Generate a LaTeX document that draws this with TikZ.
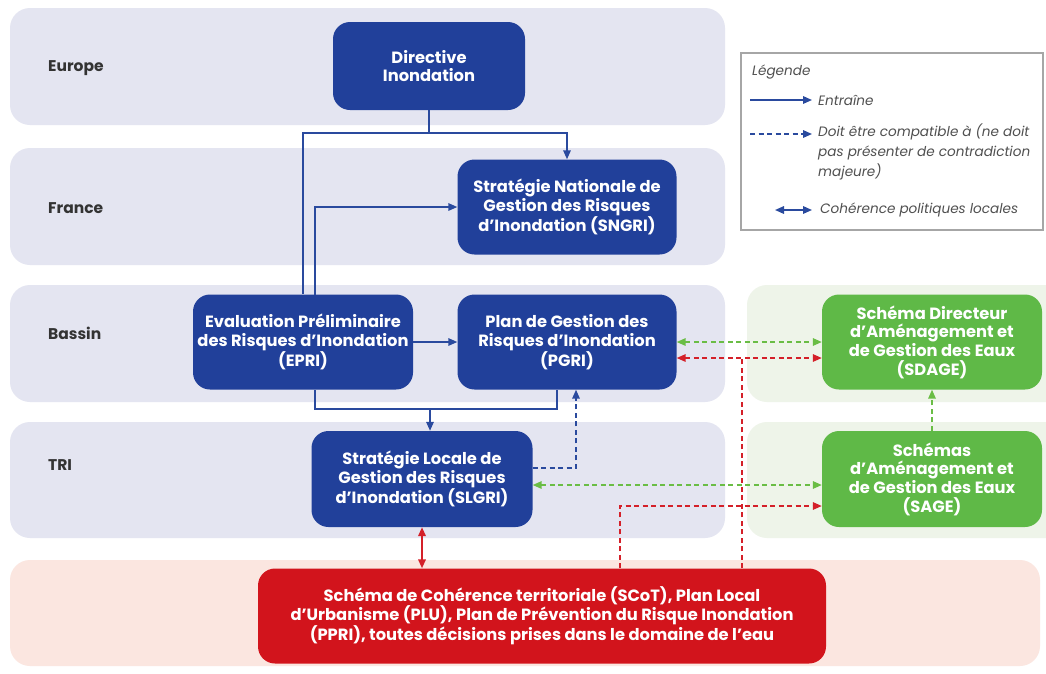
\documentclass[tikz,border=0pt]{standalone}
\usepackage{fontspec}
\setmainfont{Poppins}
\usetikzlibrary{arrows.meta,calc}
\definecolor{bandblue}{HTML}{E4E5F1}
\definecolor{bandgreen}{HTML}{EEF4E9}
\definecolor{bandred}{HTML}{FBE6E0}
\definecolor{boxblue}{HTML}{21409A}
\definecolor{boxgreen}{HTML}{5FB947}
\definecolor{boxred}{HTML}{D2141C}
\definecolor{lineblue}{HTML}{2A4A9E}
\definecolor{linegreen}{HTML}{6ABD45}
\definecolor{linered}{HTML}{D42029}
\definecolor{labelgray}{HTML}{333333}
\definecolor{legendgray}{HTML}{505050}
\begin{document}
\begin{tikzpicture}[x=1pt,y=-1pt,
  box/.style={fill=#1, rounded corners=17pt, text=white, align=center, inner sep=0pt,
    font=\fontsize{16.3}{18.6}\selectfont\bfseries},
  lab/.style={anchor=west, text=labelgray, font=\fontsize{15.5}{17}\selectfont\bfseries, inner sep=0pt},
  leg/.style={anchor=west, text=legendgray, align=left, inner sep=0pt,
    font=\fontsize{13.6}{20}\selectfont\itshape},
  tip/.style={-{Triangle[length=9pt,width=7.5pt]}},
  flow/.style={draw=lineblue, line width=1.6pt, tip},
  plain/.style={draw=lineblue, line width=1.6pt},
  compat/.style={draw=lineblue, line width=1.6pt, dash pattern=on 5pt off 3.5pt, tip},
  gboth/.style={draw=linegreen, line width=1.6pt, dash pattern=on 5pt off 3.5pt,
    {Triangle[length=9pt,width=7.5pt]}-{Triangle[length=9pt,width=7.5pt]}},
  gone/.style={draw=linegreen, line width=1.6pt, dash pattern=on 5pt off 3.5pt, tip},
  rboth/.style={draw=linered, line width=1.6pt, dash pattern=on 5pt off 3.5pt,
    {Triangle[length=9pt,width=7.5pt]}-{Triangle[length=9pt,width=7.5pt]}},
  rone/.style={draw=linered, line width=1.6pt, dash pattern=on 5pt off 3.5pt, tip},
  rline/.style={draw=linered, line width=1.6pt, dash pattern=on 5pt off 3.5pt},
  rsolid/.style={draw=linered, line width=2pt,
    {Triangle[length=9pt,width=7.5pt]}-{Triangle[length=9pt,width=7.5pt]}},
]
\useasboundingbox (0,0) rectangle (1046,673);
\fill[white] (0,0) rectangle (1046,673);

% bands
\fill[bandblue, rounded corners=20pt] (10,8) rectangle (725,125);
\fill[bandblue, rounded corners=20pt] (10,148) rectangle (725,265);
\fill[bandblue, rounded corners=20pt] (10,285) rectangle (725,402);
\fill[bandblue, rounded corners=20pt] (10,422) rectangle (725,538);
\fill[bandgreen, rounded corners=20pt] (747,285) rectangle (1066,402);
\fill[bandgreen, rounded corners=20pt] (747,422) rectangle (1066,538);
\fill[bandred, rounded corners=20pt] (10,560) rectangle (1040,666);

% band labels
\node[lab] (lEU) at (48,68) {Europe};
\node[lab] (lFR) at (48,208) {France};
\node[lab] (lBA) at (48,333) {Bassin};
\node[lab] (lTRI) at (48,465) {TRI};

% boxes
\node[box=boxblue, minimum width=192pt, minimum height=88pt] (dir) at (429,66) {Directive\\Inondation};
\node[box=boxblue, minimum width=219pt, minimum height=95pt] (sngri) at (567,207) {Stratégie Nationale de\\Gestion des Risques\\d’Inondation (SNGRI)};
\node[box=boxblue, minimum width=220pt, minimum height=95pt] (epri) at (303,342) {Evaluation Préliminaire\\des Risques d’Inondation\\(EPRI)};
\node[box=boxblue, minimum width=219pt, minimum height=95pt] (pgri) at (567,342) {Plan de Gestion des\\Risques d’Inondation\\(PGRI)};
\node[box=boxblue, minimum width=221pt, minimum height=96pt] (slgri) at (422,479) {Stratégie Locale de\\Gestion des Risques\\d’Inondation (SLGRI)};
\node[box=boxgreen, minimum width=220pt, minimum height=95pt] (sdage) at (932,342) {Schéma Directeur\\d’Aménagement et\\de Gestion des Eaux\\(SDAGE)};
\node[box=boxgreen, minimum width=220pt, minimum height=96pt] (sage) at (932,479) {Schémas\\d’Aménagement et\\de Gestion des Eaux\\(SAGE)};
\node[box=boxred, minimum width=568pt, minimum height=95pt] (red) at (542,616) {Schéma de Cohérence territoriale (SCoT), Plan Local\\d’Urbanisme (PLU), Plan de Prévention du Risque Inondation\\(PPRI), toutes décisions prises dans le domaine de l’eau};

% legend
\draw[gray!70, line width=1.2pt] (741,53) rectangle (1043,230);
\node[leg] (lgt) at (752,72) {Légende};
\coordinate (la1) at (750,100); \coordinate (lb1) at (812,100);
\draw[flow] (la1) -- (lb1);
\node[leg] (lg1) at (818,100) {Entraîne};
\coordinate (la2) at (750,134); \coordinate (lb2) at (812,134);
\draw[compat] (la2) -- (lb2);
\node[leg, anchor=north west] (lg2) at (818,124) {Doit être compatible à (ne doit\\pas présenter de contradiction\\majeure)};
\coordinate (la3) at (775,210); \coordinate (lb3) at (812,210);
\draw[draw=lineblue, line width=1.6pt, {Triangle[length=9pt,width=7.5pt]}-{Triangle[length=9pt,width=7.5pt]}] (la3) -- (lb3);
\node[leg] (lg3) at (820,210) {Cohérence politiques locales};

% blue connectors
\coordinate (d1) at (429,133);
\draw[flow] (dir.south) -- (d1) -| (sngri.north);
\draw[plain] (d1) -| (epri.north);
\coordinate (e1) at (315,295);
\draw[flow] (e1) |- (sngri.west);
\draw[flow] (epri.east) -- (pgri.west);
\coordinate (m) at (430,409);
\coordinate (e2) at (315,390);
\coordinate (p2) at (557,390);
\draw[plain] (e2) |- (m);
\draw[plain] (p2) |- (m);
\draw[flow] (m) -- (m |- slgri.north);
\coordinate (c1) at (576,468);
\draw[compat] (slgri.east |- c1) -| (pgri.south -| c1);

% green connectors
\draw[gboth] (pgri.east) -- (sdage.west);
\coordinate (g2) at (600,485);
\draw[gboth] (slgri.east |- g2) -- (sage.west |- g2);
\draw[gone] (sage.north) -- (sdage.south);

% red connectors
\coordinate (r1) at (742,358);
\draw[rboth] (pgri.east |- r1) -- (sdage.west |- r1);
\draw[rline] (r1 |- red.north) -- (r1);
\coordinate (r2) at (620,506);
\draw[rone] (r2 |- red.north) |- (sage.west |- r2);
\draw[rsolid] (slgri.south) -- (slgri.south |- red.north);
\end{tikzpicture}
\end{document}
